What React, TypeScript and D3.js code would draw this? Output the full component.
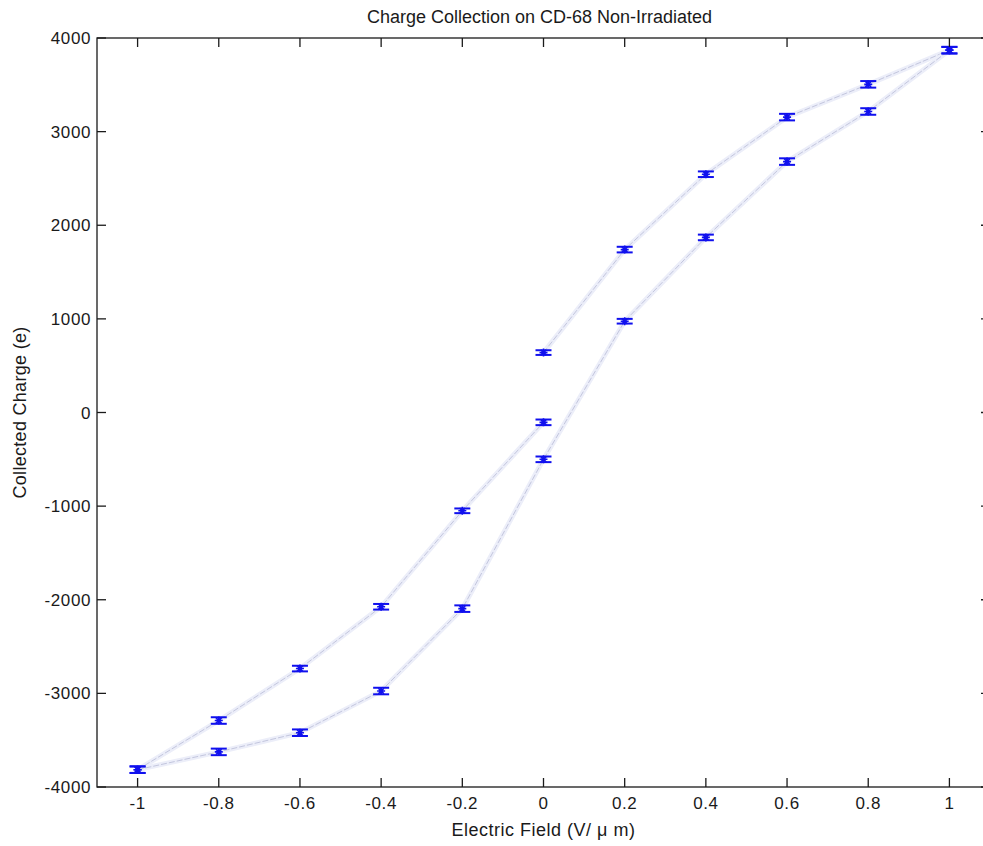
import React, { useEffect, useRef } from 'react';
import * as d3 from 'd3';

// rising part of the upper branch (ends at the 0 point near -100)
const upperLowX = [-1, -0.8, -0.6, -0.4, -0.2, 0];
const upperLowY = [-3815, -3290, -2735, -2075, -1050, -105];
// upper branch from the 0 point at ~640 up to 1
const upperHighX = [0, 0.2, 0.4, 0.6, 0.8, 1];
const upperHighY = [640, 1740, 2545, 3155, 3505, 3870];
// lower branch
const lowerX = [-1, -0.8, -0.6, -0.4, -0.2, 0, 0.2, 0.4, 0.6, 0.8, 1];
const lowerY = [-3815, -3625, -3420, -2975, -2095, -500, 975, 1870, 2680, 3215, 3870];
const errUpperLow = [35, 35, 30, 30, 25, 30];
const errUpperHigh = [25, 30, 30, 35, 35, 35];
const errLower = [35, 35, 35, 35, 35, 30, 25, 30, 35, 35, 35];

const xTicks = [-1, -0.8, -0.6, -0.4, -0.2, 0, 0.2, 0.4, 0.6, 0.8, 1];
const yTicks = [-4000, -3000, -2000, -1000, 0, 1000, 2000, 3000, 4000];

type Pt = { x: number; y: number; e: number };

const zip = (xs: number[], ys: number[], es: number[]): Pt[] =>
  xs.map((x, i) => ({ x, y: ys[i], e: es[i] }));

export default function App() {
  const ref = useRef<SVGSVGElement>(null);

  useEffect(() => {
    const svg = d3.select(ref.current);
    svg.selectAll('*').remove();
    const W = 983;
    const H = 846;
    const left = 97;
    const right = 990;
    const top = 38;
    const bottom = 787;
    const font = 'Arial, "Liberation Sans", sans-serif';
    const ink = '#1a1a1a';

    svg.append('rect').attr('width', W).attr('height', H).attr('fill', 'white');

    const x = d3.scaleLinear().domain([-1.1, 1.1]).range([left, right]);
    const y = d3.scaleLinear().domain([-4000, 4000]).range([bottom, top]);

    const series = [
      zip(upperLowX, upperLowY, errUpperLow),
      zip(upperHighX, upperHighY, errUpperHigh),
      zip(lowerX, lowerY, errLower),
    ];

    const line = d3
      .line<Pt>()
      .x((d) => x(d.x))
      .y((d) => y(d.y));

    const plot = svg.append('g');
    series.forEach((s) => {
      plot
        .append('path')
        .datum(s)
        .attr('d', line)
        .attr('fill', 'none')
        .attr('stroke', '#eceef9')
        .attr('stroke-width', 5);
      plot
        .append('path')
        .datum(s)
        .attr('d', line)
        .attr('fill', 'none')
        .attr('stroke', '#c3c6de')
        .attr('stroke-width', 1)
        .attr('stroke-dasharray', '6,2');
    });

    const cap = 8;
    series.forEach((s) => {
      const g = plot
        .selectAll(null)
        .data(s)
        .enter()
        .append('g')
        .attr('transform', (d) => `translate(${x(d.x)},0)`);
      g.append('line')
        .attr('x1', 0)
        .attr('x2', 0)
        .attr('y1', (d) => y(d.y + d.e))
        .attr('y2', (d) => y(d.y - d.e))
        .attr('stroke', '#1010ee')
        .attr('stroke-width', 1.5);
      [1, -1].forEach((sgn) => {
        g.append('line')
          .attr('x1', -cap)
          .attr('x2', cap)
          .attr('y1', (d) => y(d.y + sgn * d.e))
          .attr('y2', (d) => y(d.y + sgn * d.e))
          .attr('stroke', '#1010ee')
          .attr('stroke-width', 2);
      });
      // star marker
      const r = 4;
      g.append('path')
        .attr('d', (d) => {
          const cy = y(d.y);
          return (
            `M${-r},${cy}L${r},${cy}` +
            `M0,${cy - r}L0,${cy + r}` +
            `M${-r * 0.7},${cy - r * 0.7}L${r * 0.7},${cy + r * 0.7}` +
            `M${-r * 0.7},${cy + r * 0.7}L${r * 0.7},${cy - r * 0.7}`
          );
        })
        .attr('stroke', '#1010ee')
        .attr('stroke-width', 1.6);
    });

    // box + inward ticks
    const axes = svg.append('g').attr('stroke', ink).attr('stroke-width', 1.3);
    axes
      .append('rect')
      .attr('x', left)
      .attr('y', top)
      .attr('width', right - left)
      .attr('height', bottom - top)
      .attr('fill', 'none');
    const tl = 9;
    xTicks.forEach((t) => {
      axes.append('line').attr('x1', x(t)).attr('x2', x(t)).attr('y1', bottom).attr('y2', bottom - tl);
      axes.append('line').attr('x1', x(t)).attr('x2', x(t)).attr('y1', top).attr('y2', top + tl);
    });
    yTicks.forEach((t) => {
      axes.append('line').attr('x1', left).attr('x2', left + tl).attr('y1', y(t)).attr('y2', y(t));
      axes.append('line').attr('x1', right).attr('x2', right - tl).attr('y1', y(t)).attr('y2', y(t));
    });

    const labels = svg.append('g').attr('font-family', font).attr('fill', ink).attr('font-size', 17);
    labels
      .selectAll(null)
      .data(xTicks)
      .enter()
      .append('text')
      .attr('x', (d) => x(d))
      .attr('y', bottom + 22)
      .attr('text-anchor', 'middle')
      .attr('letter-spacing', 0.6)
      .text((d) => String(d));
    labels
      .selectAll(null)
      .data(yTicks)
      .enter()
      .append('text')
      .attr('x', left - 6)
      .attr('y', (d) => y(d) + 6)
      .attr('text-anchor', 'end')
      .attr('letter-spacing', 0.6)
      .text((d) => String(d));

    labels
      .append('text')
      .attr('x', (left + right) / 2)
      .attr('y', 836)
      .attr('text-anchor', 'middle')
      .attr('font-size', 18)
      .attr('letter-spacing', 0.5)
      .text('Electric Field (V/ μ m)');
    labels
      .append('text')
      .attr('transform', `translate(26,${(top + bottom) / 2}) rotate(-90)`)
      .attr('text-anchor', 'middle')
      .attr('font-size', 18)
      .attr('letter-spacing', 0.3)
      .text('Collected Charge (e)');
    labels
      .append('text')
      .attr('x', (left + right) / 2 - 4)
      .attr('y', 23)
      .attr('text-anchor', 'middle')
      .attr('font-size', 18)
      .text('Charge Collection on CD-68 Non-Irradiated');
  }, []);

  return (
    <div style={{ position: 'absolute', left: 0, top: 0, width: 983, height: 846, overflow: 'hidden' }}>
      <svg ref={ref} width={983} height={846} style={{ display: 'block' }} />
    </div>
  );
}
